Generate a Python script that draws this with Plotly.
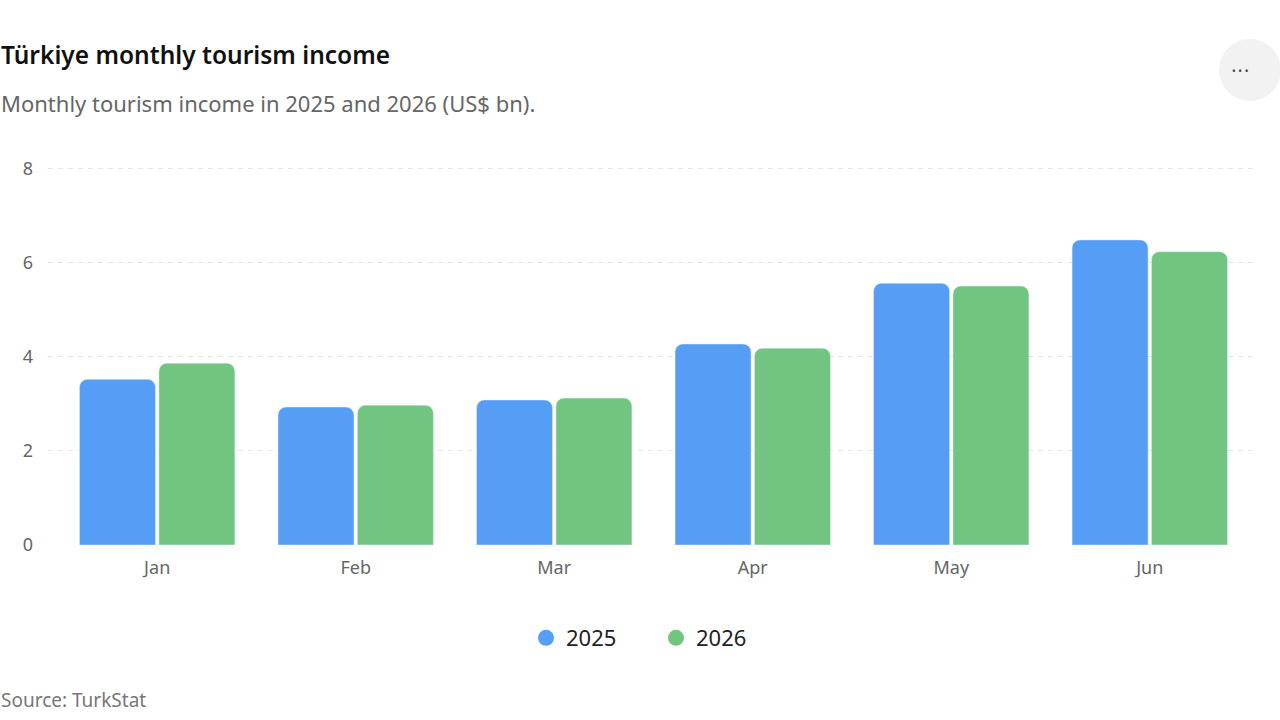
import plotly.graph_objects as go

# data
months = ["Jan", "Feb", "Mar", "Apr", "May", "Jun"]
income_2025 = [3.52, 2.93, 3.08, 4.27, 5.56, 6.48]
income_2026 = [3.86, 2.97, 3.12, 4.18, 5.50, 6.23]
y_ticks = [0, 2, 4, 6, 8]

blue = "#569df6"
green = "#71c581"
font_family = "Noto Sans, Open Sans, sans-serif"

plot_l, plot_r, plot_t, plot_b = 48, 1253, 166, 545
pw, ph = plot_r - plot_l, plot_b - plot_t


def px(x):
    return (x - plot_l) / pw


def py(y):
    return (plot_b - y) / ph


fig = go.Figure()
fig.add_trace(go.Bar(x=months, y=income_2025, name="2025", marker_color=blue,
                     showlegend=False, hoverinfo="skip"))
fig.add_trace(go.Bar(x=months, y=income_2026, name="2026", marker_color=green,
                     showlegend=False, hoverinfo="skip"))

# legend with round markers
fig.add_trace(go.Scatter(x=[None], y=[None], mode="markers", name="2025",
                         marker=dict(color=blue, size=16, symbol="circle")))
fig.add_trace(go.Scatter(x=[None], y=[None], mode="markers", name="2026",
                         marker=dict(color=green, size=16, symbol="circle")))

fig.update_layout(
    width=1280, height=720,
    margin=dict(l=plot_l, r=1280 - plot_r, t=plot_t, b=720 - plot_b),
    paper_bgcolor="white", plot_bgcolor="white",
    font=dict(family=font_family, color="#666666"),
    barmode="group", bargap=0.2, bargroupgap=0.043, barcornerradius=8,
    legend=dict(orientation="h", x=px(656), xanchor="center", xref="paper",
                y=py(638), yanchor="middle", yref="paper",
                font=dict(size=22, color="#222222"), itemwidth=30,
                entrywidth=85),
    showlegend=True,
)
fig.update_xaxes(range=[-0.55, 5.52], showgrid=False, showline=False,
                 ticks="", tickfont=dict(size=18, color="#666666"),
                 ticklabelstandoff=10)
fig.update_yaxes(range=[0, 8.05], tickvals=y_ticks, showgrid=True,
                 gridcolor="#e6e6e6", griddash="5px,5px", gridwidth=1,
                 zeroline=False, showline=False, ticks="",
                 tickfont=dict(size=18, color="#666666"), ticklabelstandoff=14)

fig.add_annotation(text="Türkiye monthly tourism income", xref="paper", yref="paper",
                   x=px(-1), y=py(55), xanchor="left", yanchor="middle",
                   showarrow=False,
                   font=dict(size=24.5, color="#111111", family=font_family, weight=600))
fig.add_annotation(text="Monthly tourism income in 2025 and 2026 (US$ bn).",
                   xref="paper", yref="paper",
                   x=px(-1), y=py(103), xanchor="left", yanchor="middle",
                   showarrow=False, font=dict(size=22, color="#666666"))
fig.add_annotation(text="Source: TurkStat", xref="paper", yref="paper",
                   x=px(-1), y=py(700), xanchor="left", yanchor="middle",
                   showarrow=False, font=dict(size=19, color="#777777"))

# menu button top right
cx, cy, rad = px(1250), py(70), 31
fig.add_shape(type="circle", xref="paper", yref="paper",
              x0=cx - rad / pw, x1=cx + rad / pw,
              y0=cy - rad / ph, y1=cy + rad / ph,
              fillcolor="#f2f2f2", line=dict(width=0), layer="below")
fig.add_annotation(text="• • •", xref="paper", yref="paper", x=cx, y=py(62),
                   showarrow=False, font=dict(size=10, color="#444444"))

# drop the default page margin so the figure sits at the window corner
fig.write_html("out.html", config={"displayModeBar": False},
               post_script="document.body.style.margin='0';document.body.style.overflow='hidden';")
